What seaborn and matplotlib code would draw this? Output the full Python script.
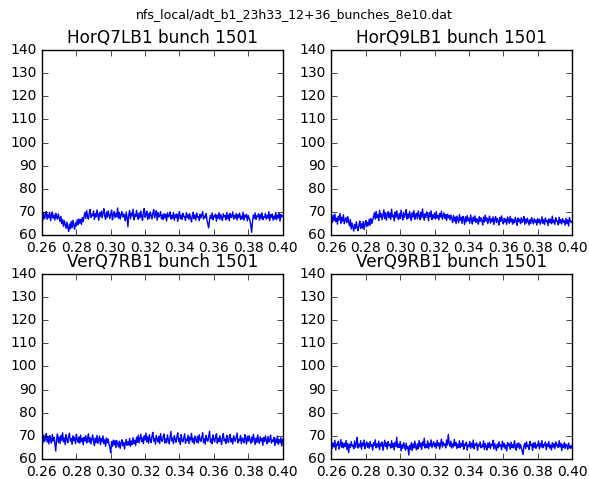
import numpy as np
import pandas as pd
import matplotlib
matplotlib.use("Agg")
import matplotlib.pyplot as plt
import seaborn as sns

plt.style.use("classic")
plt.rcParams["font.family"] = ["DejaVu Sans"]

file_name = "nfs_local/adt_b1_23h33_12+36_bunches_8e10.dat"
bunch = 1501
pickups = ["HorQ7LB1", "HorQ9LB1", "VerQ7RB1", "VerQ9RB1"]

t_start, t_stop = 0.26, 0.40

hor_q7lb1 = [
    68.9, 66.4, 69.7, 67.1, 68.3, 70.2, 66.8, 68.9, 67.5, 69.8,
    66.2, 68.4, 70.0, 67.3, 68.6, 66.5, 69.4, 67.8, 66.9, 69.1,
    67.4, 65.8, 68.1, 64.9, 66.7, 63.8, 66.2, 64.5, 62.9, 65.6,
    63.4, 61.6, 64.8, 62.7, 65.9, 63.1, 66.4, 64.2, 62.5, 65.3,
    63.9, 66.6, 64.4, 67.0, 65.1, 66.8, 64.6, 67.5, 65.9, 68.2,
    69.8, 67.2, 70.6, 68.0, 66.9, 69.5, 71.1, 67.6, 69.0, 68.3,
    70.4, 66.7, 69.2, 67.9, 70.9, 68.5, 66.4, 69.7, 68.1, 70.3,
    67.4, 69.6, 71.4, 68.2, 66.8, 69.9, 67.7, 70.5, 68.6, 67.1,
    69.3, 70.8, 66.6, 68.9, 70.1, 67.5, 69.4, 68.0, 71.7, 67.3,
    69.8, 66.9, 68.7, 70.2, 67.8, 69.1, 68.4, 66.2, 70.0, 67.6,
    63.6, 68.8, 70.6, 67.0, 69.5, 68.2, 71.2, 66.5, 69.0, 67.9,
    70.7, 68.3, 66.8, 69.6, 67.4, 70.4, 68.1, 66.3, 69.9, 71.5,
    67.7, 68.9, 70.3, 66.7, 69.2, 67.2, 70.0, 68.6, 66.9, 69.4,
    71.0, 67.5, 68.8, 70.5, 66.4, 69.7, 67.8, 68.5, 70.1, 67.0,
    68.7, 66.6, 69.3, 67.4, 68.9, 66.1, 69.6, 67.8, 68.2, 70.0,
    66.9, 68.5, 67.2, 69.8, 66.4, 68.8, 67.6, 69.1, 65.9, 68.3,
    70.2, 67.0, 68.6, 66.7, 69.4, 67.9, 68.1, 66.3, 69.7, 67.5,
    68.9, 66.8, 69.2, 67.3, 65.7, 68.4, 69.9, 67.1, 68.7, 66.5,
    69.5, 67.7, 68.0, 66.2, 69.0, 67.4, 68.8, 70.1, 66.9, 68.2,
    67.6, 69.3, 66.4, 64.8, 63.1, 66.7, 68.5, 67.2, 69.6, 66.6,
    68.3, 67.8, 69.1, 66.0, 68.6, 67.3, 69.7, 66.8, 68.9, 67.5,
    66.3, 69.2, 67.9, 68.4, 66.6, 69.8, 67.1, 68.7, 66.2, 69.4,
    67.6, 68.1, 70.0, 66.9, 68.5, 67.4, 69.3, 66.5, 68.8, 67.7,
    69.5, 66.7, 68.2, 67.0, 69.9, 66.4, 68.6, 67.8, 69.0, 66.1,
    68.4, 67.5, 66.3, 64.2, 61.2, 65.9, 68.7, 67.2, 69.6, 66.8,
    68.3, 67.9, 69.2, 66.5, 68.9, 67.1, 69.7, 66.6, 68.0, 67.6,
    69.4, 66.9, 68.5, 67.3, 70.1, 66.2, 68.8, 67.7, 69.1, 66.4,
    68.2, 67.0, 69.8, 66.7, 68.6, 67.4, 69.3, 66.0, 68.9, 67.8,
    68.4,
]

hor_q9lb1 = [
    67.9, 65.4, 68.6, 66.2, 69.1, 65.8, 67.3, 64.7, 68.2, 66.5,
    69.4, 65.1, 67.7, 66.0, 68.8, 64.9, 66.6, 67.5, 65.3, 68.0,
    65.7, 63.9, 66.8, 62.6, 65.2, 63.5, 61.7, 64.6, 62.9, 65.8,
    63.2, 61.9, 64.4, 66.1, 62.8, 64.9, 63.0, 65.9, 62.4, 64.7,
    66.3, 63.6, 65.5, 64.1, 66.9, 64.3, 67.2, 65.0, 66.4, 68.1,
    69.6, 66.9, 70.3, 67.5, 68.8, 66.2, 70.7, 67.8, 69.2, 66.6,
    68.5, 70.9, 67.1, 69.7, 66.4, 68.9, 70.1, 67.4, 69.5, 66.8,
    71.2, 67.9, 68.6, 66.1, 69.9, 67.6, 70.5, 68.2, 66.7, 69.3,
    67.2, 70.8, 68.4, 66.5, 69.8, 67.7, 68.9, 71.0, 66.9, 69.1,
    67.3, 70.2, 68.0, 66.3, 69.6, 67.8, 70.6, 66.8, 68.7, 69.4,
    67.0, 70.4, 68.3, 66.6, 69.9, 67.5, 71.3, 68.1, 66.4, 69.2,
    67.6, 70.0, 68.6, 66.2, 69.7, 67.9, 70.5, 66.7, 68.8, 67.3,
    69.5, 66.9, 70.1, 67.4, 68.5, 66.5, 69.3, 67.8, 70.3, 66.8,
    68.2, 69.6, 67.1, 68.9, 66.3, 69.0, 67.5, 68.4, 66.6, 68.7,
    67.2, 65.4, 68.5, 66.1, 67.8, 64.9, 68.2, 66.7, 65.3, 68.9,
    66.4, 67.6, 65.0, 68.1, 66.8, 64.6, 67.9, 65.7, 68.4, 66.2,
    67.3, 65.1, 68.7, 66.5, 64.8, 67.7, 66.0, 68.3, 65.5, 67.1,
    66.6, 64.7, 68.0, 65.9, 67.5, 66.3, 64.4, 67.8, 65.6, 68.6,
    66.1, 67.4, 64.9, 66.8, 68.2, 65.2, 67.0, 65.8, 67.9, 64.5,
    66.7, 68.0, 65.4, 67.2, 66.0, 64.3, 67.6, 65.9, 68.3, 66.2,
    64.8, 67.3, 65.6, 66.9, 64.6, 67.8, 66.4, 65.1, 68.1, 65.7,
    67.0, 64.7, 66.6, 65.3, 67.7, 66.1, 64.2, 67.4, 65.8, 66.8,
    64.9, 67.5, 65.5, 66.3, 68.0, 64.6, 66.9, 65.2, 67.3, 65.9,
    64.4, 66.7, 65.0, 67.6, 66.2, 64.8, 67.1, 65.6, 66.5, 64.3,
    67.2, 65.4, 66.8, 64.7, 66.0, 67.9, 65.1, 66.6, 64.5, 67.4,
    65.8, 66.3, 64.1, 67.0, 65.5, 66.9, 64.9, 68.2, 65.3, 66.4,
    64.6, 67.5, 65.9, 66.1, 64.4, 67.7, 65.2, 66.7, 64.8, 67.1,
    65.6, 66.2, 64.3, 67.3, 65.0, 66.5, 63.9, 67.6, 65.7, 66.0,
    65.4,
]

ver_q7rb1 = [
    69.2, 66.8, 70.4, 67.6, 68.9, 71.0, 67.3, 69.7, 66.5, 70.1,
    68.2, 66.9, 70.6, 67.8, 69.4, 66.4, 63.4, 68.7, 70.8, 67.1,
    69.5, 66.7, 70.2, 68.0, 71.3, 67.4, 69.1, 66.2, 70.5, 68.4,
    67.0, 69.8, 71.1, 67.7, 68.8, 66.3, 70.0, 67.9, 69.3, 66.6,
    70.7, 68.5, 67.2, 69.6, 66.8, 70.3, 67.5, 68.9, 66.1, 69.4,
    67.8, 70.1, 66.9, 68.6, 70.9, 67.3, 69.2, 66.5, 68.7, 70.4,
    67.6, 65.8, 69.0, 67.1, 70.2, 66.7, 68.4, 69.9, 66.2, 68.8,
    67.4, 70.0, 66.6, 68.3, 65.5, 69.1, 67.0, 68.6, 66.4, 64.8,
    62.6, 67.5, 65.4, 68.2, 66.1, 67.9, 64.9, 68.0, 66.6, 65.2,
    67.7, 64.6, 66.9, 68.3, 65.7, 67.2, 64.3, 66.8, 68.5, 65.9,
    67.4, 66.0, 68.9, 65.5, 67.8, 66.3, 69.2, 66.7, 68.1, 65.8,
    69.4, 67.2, 70.3, 66.9, 68.8, 70.7, 67.5, 69.1, 66.6, 70.0,
    68.2, 71.2, 67.4, 69.6, 66.8, 70.5, 68.0, 67.1, 69.9, 71.5,
    67.7, 68.9, 66.4, 70.2, 68.5, 67.3, 69.8, 66.7, 71.0, 68.1,
    67.6, 69.5, 70.8, 66.9, 68.7, 67.0, 70.4, 68.3, 66.5, 69.3,
    71.9, 67.8, 69.0, 66.6, 70.1, 68.4, 67.2, 69.7, 71.3, 67.5,
    68.9, 66.3, 70.6, 68.0, 67.4, 69.2, 70.9, 66.8, 68.6, 67.9,
    70.3, 66.7, 69.4, 68.2, 71.1, 67.3, 69.0, 66.5, 70.0, 68.5,
    67.1, 69.8, 66.9, 70.5, 68.3, 67.6, 69.5, 71.4, 67.0, 68.8,
    66.4, 70.2, 68.1, 67.7, 69.9, 72.0, 67.2, 68.7, 66.6, 70.4,
    68.4, 67.4, 69.6, 70.9, 66.8, 68.9, 67.5, 70.1, 68.0, 66.3,
    69.3, 71.0, 67.8, 68.6, 66.7, 70.3, 68.2, 67.1, 69.7, 70.6,
    67.3, 68.8, 66.5, 70.0, 68.4, 67.6, 69.4, 71.2, 66.9, 68.5,
    67.9, 70.2, 66.6, 69.1, 68.3, 67.0, 70.5, 68.7, 66.4, 69.8,
    67.7, 70.1, 68.1, 66.8, 69.5, 67.4, 70.7, 68.6, 66.2, 69.0,
    67.2, 70.4, 68.3, 66.7, 69.6, 67.8, 68.9, 65.9, 69.3, 67.5,
    70.0, 68.0, 66.6, 69.7, 67.3, 68.5, 70.3, 66.9, 68.2, 67.6,
    69.4, 65.8, 68.7, 67.1, 69.9, 66.4, 68.4, 67.0, 69.2, 65.6,
    68.6,
]

ver_q9rb1 = [
    67.4, 64.6, 66.9, 65.2, 68.1, 63.9, 66.5, 65.8, 67.7, 64.3,
    66.2, 68.4, 65.0, 67.1, 64.8, 66.7, 65.4, 68.0, 64.1, 66.8,
    62.8, 66.3, 64.9, 67.5, 65.6, 66.0, 64.4, 67.8, 65.1, 66.6,
    69.3, 64.7, 66.4, 65.3, 67.9, 64.2, 66.9, 65.7, 68.2, 64.5,
    66.1, 67.4, 65.0, 66.8, 64.6, 67.6, 65.5, 66.2, 63.8, 67.0,
    65.9, 68.3, 64.8, 66.5, 65.2, 67.7, 64.0, 66.7, 65.6, 67.3,
    63.7, 66.0, 68.1, 65.4, 66.9, 64.3, 67.5, 65.8, 66.3, 64.7,
    67.9, 65.1, 66.6, 63.9, 67.2, 65.5, 69.4, 64.9, 66.4, 65.0,
    67.6, 63.5, 66.1, 64.6, 67.0, 65.7, 63.8, 66.8, 64.4, 65.3,
    61.7, 65.9, 64.2, 67.1, 63.6, 66.5, 64.8, 67.7, 65.4, 63.9,
    66.6, 64.5, 68.0, 65.2, 66.9, 64.1, 67.4, 65.8, 69.0, 64.7,
    66.3, 65.0, 67.8, 64.4, 66.7, 65.6, 68.3, 64.9, 66.2, 67.5,
    65.3, 66.8, 64.6, 68.1, 65.7, 67.0, 64.3, 66.4, 68.6, 65.1,
    67.3, 65.9, 66.5, 64.8, 68.2, 66.0, 70.6, 66.9, 65.4, 67.7,
    64.7, 66.6, 65.2, 68.4, 65.8, 67.1, 64.5, 66.3, 65.0, 67.9,
    64.9, 66.7, 65.5, 68.0, 64.2, 66.4, 65.7, 67.3, 63.8, 66.1,
    65.3, 67.6, 64.6, 66.8, 65.1, 68.2, 64.4, 66.5, 65.9, 67.0,
    63.7, 66.2, 65.6, 67.4, 64.8, 66.0, 65.2, 67.8, 64.1, 66.6,
    65.4, 63.9, 66.9, 65.0, 67.2, 64.5, 66.3, 65.8, 68.1, 64.3,
    66.7, 65.1, 63.6, 66.4, 64.9, 67.5, 65.5, 66.1, 64.0, 67.7,
    65.2, 66.8, 64.6, 66.0, 63.5, 67.1, 65.7, 66.5, 64.2, 67.3,
    65.0, 66.2, 64.7, 67.9, 65.4, 63.8, 66.6, 65.1, 67.0, 64.4,
    66.3, 64.9, 63.3, 61.9, 65.6, 66.8, 64.5, 67.4, 65.3, 66.0,
    64.1, 67.6, 65.8, 66.4, 63.7, 66.9, 65.0, 67.2, 64.6, 66.1,
    65.5, 67.8, 64.3, 66.7, 65.2, 68.0, 64.8, 66.2, 65.7, 67.3,
    64.0, 66.5, 65.4, 67.6, 64.7, 66.0, 63.9, 67.1, 65.1, 66.6,
    64.4, 67.4, 65.6, 66.3, 64.9, 67.9, 65.3, 66.8, 63.6, 66.1,
    65.0, 67.2, 64.5, 66.4, 65.8, 64.2, 66.9, 65.2, 64.6, 65.9,
    64.8,
]

series = [hor_q7lb1, hor_q9lb1, ver_q7rb1, ver_q9rb1]

fig, axes = plt.subplots(2, 2, figsize=(5.89, 4.79), dpi=100, facecolor="white")
fig.subplots_adjust(left=0.0713, right=0.9712, top=0.8956, bottom=0.0418,
                    wspace=0.203, hspace=0.21)

for ax, name, values in zip(axes.flat, pickups, series):
    time = np.linspace(t_start, t_stop, len(values))
    df = pd.DataFrame({"t": time, "amp": values})
    sns.lineplot(data=df, x="t", y="amp", ax=ax, color="b", lw=1.0,
                 estimator=None, errorbar=None)
    ax.set_xlim(0.26, 0.40)
    ax.set_ylim(60, 140)
    ax.set_xticks(np.arange(0.26, 0.4001, 0.02))
    ax.set_yticks(np.arange(60, 141, 10))
    ax.xaxis.set_major_formatter(matplotlib.ticker.FormatStrFormatter("%.2f"))
    ax.tick_params(labelsize=10, direction="in", length=4, top=True, right=True)
    ax.set_xlabel("")
    ax.set_ylabel("")
    ax.set_title(f"{name} bunch {bunch}", fontsize=12.2, pad=5)
    for sp in ax.spines.values():
        sp.set_color("black")
        sp.set_linewidth(1.0)

fig.suptitle(file_name, fontsize=9, y=0.969, va="center")
fig.savefig("out.png", dpi=100, facecolor="white")
